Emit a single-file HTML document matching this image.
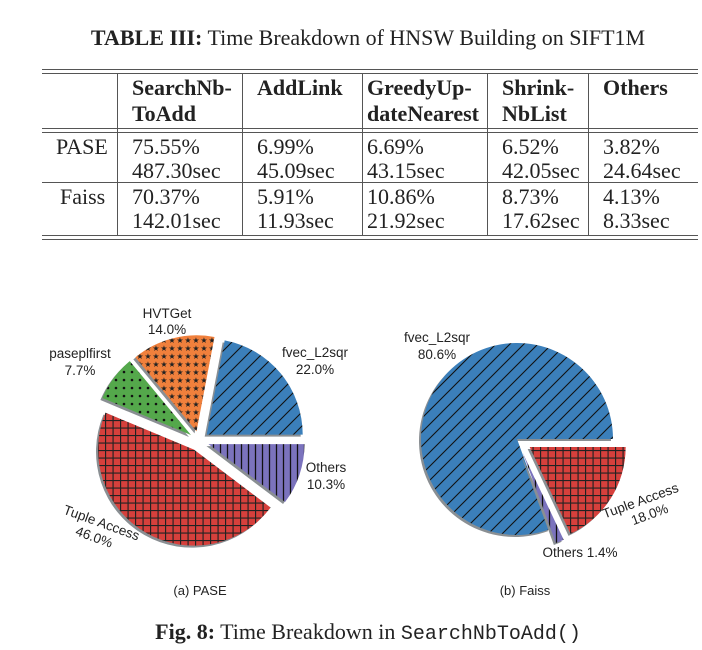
<!DOCTYPE html>
<html><head><meta charset="utf-8"><style>
html,body{margin:0;padding:0;background:#fff;}
svg{display:block;}
.t{font-family:"Liberation Serif",serif;font-size:22px;fill:#222;}
.b{font-weight:bold;}
.p{font-family:"Liberation Sans","DejaVu Sans",sans-serif;font-size:13.5px;fill:#222;}
</style></head><body>
<svg id="s" width="702" height="650" xmlns="http://www.w3.org/2000/svg">
<defs>
<pattern id="diag" width="14" height="14" patternUnits="userSpaceOnUse"><rect width="14" height="14" fill="#3b7fba"/><path d="M-2,16 L16,-2 M-2,2 L2,-2 M12,16 L16,12" stroke="#111" stroke-width="1.1"/></pattern>
<pattern id="grid" width="7.5" height="7.5" patternUnits="userSpaceOnUse"><rect width="7.5" height="7.5" fill="#d6403c"/><path d="M0,0.5 H7.5 M0.5,0 V7.5" stroke="#222" stroke-width="1.3"/></pattern>
<pattern id="star" width="8" height="8" patternUnits="userSpaceOnUse"><rect width="8" height="8" fill="#f0803c"/><text x="4" y="7" font-size="8" text-anchor="middle" fill="#222" font-family="DejaVu Sans">★</text></pattern>
<pattern id="dot" width="8" height="8" patternUnits="userSpaceOnUse"><rect width="8" height="8" fill="#54a84b"/><circle cx="4" cy="4" r="1.3" fill="#111"/></pattern>
<pattern id="vert" width="7" height="7" patternUnits="userSpaceOnUse"><rect width="7" height="7" fill="#7b73bd"/><path d="M3.5,0 V7" stroke="#111" stroke-width="1.3"/></pattern>
</defs>
<text class="t" x="368" y="45" text-anchor="middle" font-size="21"><tspan class="b">TABLE III:</tspan> Time Breakdown of HNSW Building on SIFT1M</text>
<g stroke="#555" stroke-width="1">
<line x1="42" y1="69.5" x2="698" y2="69.5"/><line x1="42" y1="73.5" x2="698" y2="73.5"/>
<line x1="42" y1="128.5" x2="698" y2="128.5"/><line x1="42" y1="132.5" x2="698" y2="132.5"/>
<line x1="42" y1="182.5" x2="698" y2="182.5"/>
<line x1="42" y1="235.5" x2="698" y2="235.5"/><line x1="42" y1="239.5" x2="698" y2="239.5"/>
<line x1="117.5" y1="73" x2="117.5" y2="235"/><line x1="242.5" y1="73" x2="242.5" y2="235"/>
<line x1="362.5" y1="73" x2="362.5" y2="235"/><line x1="487.5" y1="73" x2="487.5" y2="235"/>
<line x1="588.5" y1="73" x2="588.5" y2="235"/>
</g>
<g class="t b">
<text x="132" y="95">SearchNb-</text><text x="132" y="121">ToAdd</text>
<text x="257" y="95">AddLink</text>
<text x="367" y="95">GreedyUp-</text><text x="367" y="121">dateNearest</text>
<text x="502" y="95">Shrink-</text><text x="502" y="121">NbList</text>
<text x="603" y="95">Others</text>
</g>
<g class="t">
<text x="56" y="154">PASE</text>
<text x="132" y="154">75.55%</text><text x="132" y="178">487.30sec</text>
<text x="257" y="154">6.99%</text><text x="257" y="178">45.09sec</text>
<text x="367" y="154">6.69%</text><text x="367" y="178">43.15sec</text>
<text x="502" y="154">6.52%</text><text x="502" y="178">42.05sec</text>
<text x="603" y="154">3.82%</text><text x="603" y="178">24.64sec</text>
<text x="60" y="204">Faiss</text>
<text x="132" y="204">70.37%</text><text x="132" y="228">142.01sec</text>
<text x="257" y="204">5.91%</text><text x="257" y="228">11.93sec</text>
<text x="367" y="204">10.86%</text><text x="367" y="228">21.92sec</text>
<text x="502" y="204">8.73%</text><text x="502" y="228">17.62sec</text>
<text x="603" y="204">4.13%</text><text x="603" y="228">8.33sec</text>
</g>
<g id="pies"></g>
<g class="p">
<text x="167" y="318" text-anchor="middle">HVTGet</text><text x="167" y="334" text-anchor="middle">14.0%</text>
<text x="80" y="358" text-anchor="middle">paseplfirst</text><text x="80" y="375" text-anchor="middle">7.7%</text>
<text x="315" y="357" text-anchor="middle">fvec_L2sqr</text><text x="315" y="374" text-anchor="middle">22.0%</text>
<text x="326" y="472" text-anchor="middle">Others</text><text x="326" y="489" text-anchor="middle">10.3%</text>
<g transform="translate(100,527) rotate(20)"><text x="0" y="0" text-anchor="middle">Tuple Access</text><text x="-2" y="16" text-anchor="middle">46.0%</text></g>
<text x="437" y="342" text-anchor="middle">fvec_L2sqr</text><text x="437" y="359" text-anchor="middle">80.6%</text>
<g transform="translate(642,505) rotate(-20)"><text x="0" y="0" text-anchor="middle">Tuple Access</text><text x="4" y="16" text-anchor="middle">18.0%</text></g>
<text x="580" y="557" text-anchor="middle">Others 1.4%</text>
<text x="200" y="595" text-anchor="middle" font-size="13">(a) PASE</text>
<text x="525" y="595" text-anchor="middle" font-size="13">(b) Faiss</text>
</g>
<text class="t" x="368" y="639" text-anchor="middle" font-size="21"><tspan class="b">Fig. 8:</tspan> Time Breakdown in <tspan font-family="Liberation Mono,monospace" font-size="20">SearchNbToAdd()</tspan></text>
</svg>
<script>
(function(){
var g=document.getElementById('pies'),ns='http://www.w3.org/2000/svg';
function wedge(cx,cy,r,a0,a1,ex,fill){
 var m=(a0+a1)/2*Math.PI/180;cx+=ex*Math.cos(m);cy-=ex*Math.sin(m);
 var r0=a0*Math.PI/180,r1=a1*Math.PI/180;
 var x0=cx+r*Math.cos(r0),y0=cy-r*Math.sin(r0),x1=cx+r*Math.cos(r1),y1=cy-r*Math.sin(r1);
 var lg=(a1-a0)>180?1:0;
 var d='M'+cx+','+cy+' L'+x0+','+y0+' A'+r+','+r+' 0 '+lg+' 0 '+x1+','+y1+' Z';
 var sh=document.createElementNS(ns,'path');sh.setAttribute('d',d);sh.setAttribute('fill','#8a8f93');sh.setAttribute('transform','translate(-2,2)');g.appendChild(sh);
 var p=document.createElementNS(ns,'path');p.setAttribute('d',d);p.setAttribute('fill',fill);g.appendChild(p);
}
var A=[[22.0,'url(#diag)'],[14.0,'url(#star)'],[7.7,'url(#dot)'],[46.0,'url(#grid)'],[10.3,'url(#vert)']],a=0;
A.forEach(function(s){var b=a+s[0]*3.6;wedge(199,441,96,a,b,10,s[1]);a=b;});
var B=[[80.6,'url(#diag)',0],[1.4,'url(#vert)',15],[18.0,'url(#grid)',15]];a=0;
B.forEach(function(s){var b=a+s[0]*3.6;wedge(517,439,96,a,b,s[2],s[1]);a=b;});
})();
</script>
</body></html>
